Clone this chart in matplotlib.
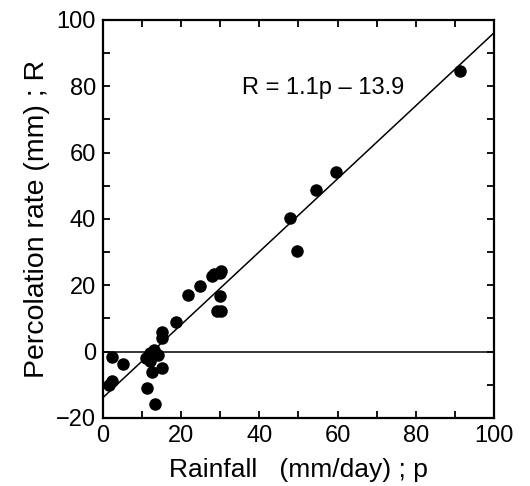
import matplotlib.pyplot as plt
from matplotlib.ticker import MultipleLocator

plt.rcParams['font.family'] = ['Liberation Sans', 'DejaVu Sans']

rainfall = [91.3, 59.6, 54.4, 47.9, 49.6, 29.9, 30.3, 27.8, 28.3, 24.8,
            21.8, 29.9, 29.1, 30.1, 18.8, 15.1, 15.1, 13.2, 12.0, 11.0,
            14.1, 12.0, 15.2, 12.5, 11.3, 13.4, 2.3, 5.2, 2.4, 1.6]
percolation = [84.7, 54.1, 48.8, 40.3, 30.2, 23.7, 24.3, 22.7, 23.3, 19.9,
               17.0, 16.9, 12.1, 12.1, 8.8, 6.0, 4.0, 0.5, -0.5, -1.8,
               -1.0, -2.8, -5.0, -6.0, -11.0, -15.8, -1.5, -3.6, -9.0, -10.2]

# regression R = 1.1p - 13.9
slope = 1.1
intercept = -13.9
fit_x = [0, 100]
fit_y = [slope * p + intercept for p in fit_x]

fig = plt.figure(figsize=(5.3, 4.86), dpi=100)
ax = fig.add_axes([0.194, 0.140, 0.738, 0.819])

ax.plot(fit_x, fit_y, color='black', lw=1.1)
ax.axhline(0, color='black', lw=1.1)
ax.plot(rainfall, percolation, 'o', color='black', ms=8, mec='black')

ax.text(35.5, 79.5, 'R = 1.1p \u2013 13.9', fontsize=17, va='center')

ax.set_xlim(0, 100)
ax.set_ylim(-20, 100)
ax.xaxis.set_major_locator(MultipleLocator(20))
ax.xaxis.set_minor_locator(MultipleLocator(10))
ax.yaxis.set_major_locator(MultipleLocator(20))
ax.yaxis.set_minor_locator(MultipleLocator(10))
ax.tick_params(which='both', direction='in', top=True, right=True,
               length=5, width=1.3, labelsize=17, pad=5)
for s in ax.spines.values():
    s.set_linewidth(1.6)

ax.set_xlabel('Rainfall   (mm/day) ; p', fontsize=19, labelpad=8)
ax.set_ylabel('Percolation rate (mm) ; R', fontsize=20.5, labelpad=4)

fig.savefig('out.png', dpi=100)
